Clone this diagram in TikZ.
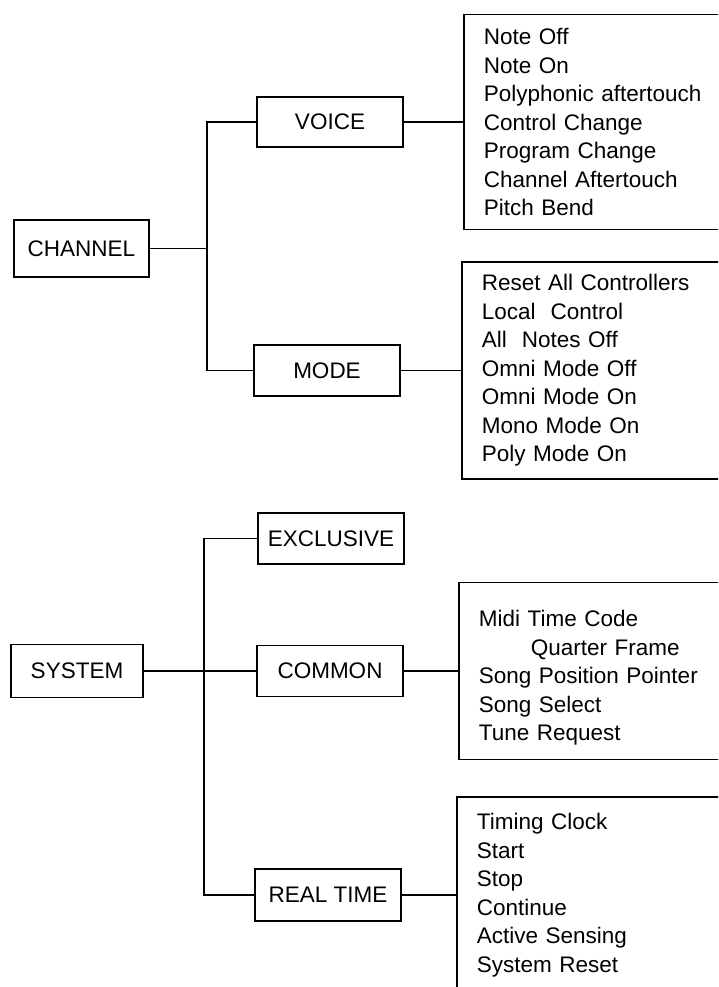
\documentclass[tikz,border=0pt]{standalone}
\usepackage{fontspec}
\setmainfont{Liberation Sans}
\usetikzlibrary{positioning}

\tikzset{
  catbox/.style={draw, line width=1.9pt, minimum width=146pt, minimum height=51pt, inner sep=0pt},
  listbox/.style={draw, line width=1.9pt, text width=340pt, inner xsep=20pt, align=left},
  link/.style={line width=1.9pt}
}

\begin{document}
\begin{tikzpicture}[x=1pt, y=-1pt, font=\fontsize{22.5}{28.5}\selectfont]
  \useasboundingbox (0,0) rectangle (718,987);
  \clip (0,0) rectangle (718,987);

  % channel messages
  \node[catbox, minimum width=135pt, minimum height=57pt] (channel) at (81.5,248.5) {CHANNEL};
  \node[catbox, minimum height=50pt] (voice) at (330,122) {VOICE};
  \node[catbox] (mode) at (327,370.5) {MODE};
  \node[listbox, minimum height=215pt, right=59pt of voice] (voicelist) {Note Off\\ Note On\\ Polyphonic aftertouch\\ Control Change\\ Program Change\\ Channel Aftertouch\\ Pitch Bend};
  \node[listbox, minimum height=217pt, right=60pt of mode] (modelist) {Reset All Controllers\\ Local~ Control\\ All~ Notes Off\\ Omni Mode Off\\ Omni Mode On\\ Mono Mode On\\ Poly Mode On};
  \coordinate (chfork) at (207,248.5);
  \draw[link] (channel.east) -- (chfork);
  \draw[link] (voice.west) -| (chfork) |- (mode.west);
  \draw[link] (voice.east) -- (voicelist.west);
  \draw[link] (mode.east) -- (modelist.west);

  % system messages
  \node[catbox, minimum width=132pt, minimum height=53pt] (system) at (77,671) {SYSTEM};
  \node[catbox] (exclusive) at (331,538.5) {EXCLUSIVE};
  \node[catbox] (common) at (330,671) {COMMON};
  \node[catbox, minimum height=52pt] (realtime) at (328,895) {REAL TIME};
  \node[listbox, minimum height=177pt, right=54pt of common] (commonlist) {\rule{0pt}{30pt}Midi Time Code\\ \hspace*{52pt}Quarter Frame\\ Song Position Pointer\\ Song Select\\ Tune Request};
  \node[listbox, minimum height=196pt, right=54pt of realtime] (realtimelist) {Timing Clock\\ Start\\ Stop\\ Continue\\ Active Sensing\\ System Reset};
  \coordinate (sysfork) at (204,671);
  \draw[link] (system) -- (common);
  \draw[link] (exclusive.west) -| (sysfork) |- (realtime.west);
  \draw[link] (common.east) -- (commonlist.west);
  \draw[link] (realtime.east) -- (realtimelist.west);
\end{tikzpicture}
\end{document}
